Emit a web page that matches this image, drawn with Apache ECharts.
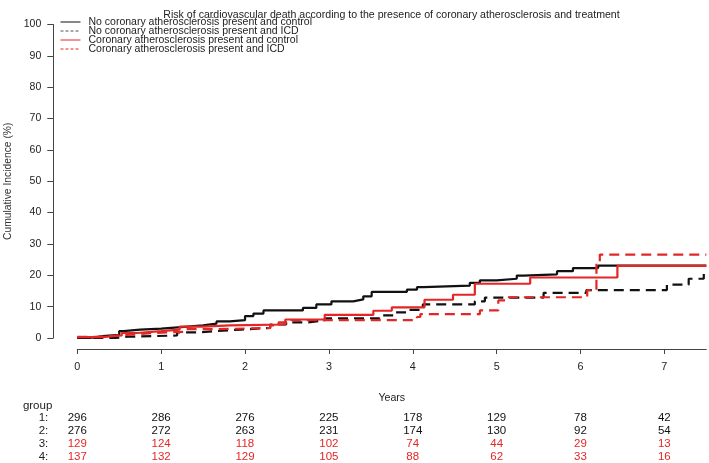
<!DOCTYPE html>
<html>
<head>
<meta charset="utf-8">
<script src="https://cdn.jsdelivr.net/npm/echarts@6/dist/echarts.min.js"></script>
<style>html,body{margin:0;padding:0;background:#fff}#c{width:709px;height:463px}</style>
</head>
<body>
<div id="c"></div>
<script>
const FONT = "'Liberation Sans',Arial,sans-serif";
const titleText = 'Risk of cardiovascular death according to the presence of coronary atherosclerosis and treatment';
const seriesNames = [
  'No coronary atherosclerosis present and control',
  'No coronary atherosclerosis present and ICD',
  'Coronary atherosclerosis present and control',
  'Coronary atherosclerosis present and ICD'
];
const xTicks = [0, 1, 2, 3, 4, 5, 6, 7];
const yTicks = [0, 10, 20, 30, 40, 50, 60, 70, 80, 90, 100];
const groupLabels = ['1:', '2:', '3:', '4:'];
const riskG1 = [296, 286, 276, 225, 178, 129, 78, 42];
const riskG2 = [276, 272, 263, 231, 174, 130, 92, 54];
const riskG3 = [129, 124, 118, 102, 74, 44, 29, 13];
const riskG4 = [137, 132, 129, 105, 88, 62, 33, 16];

// group 1: no coronary atherosclerosis, control (black solid)
const g1Time = [0, 0.15, 0.3, 0.5, 0.55, 0.75, 1.0, 1.2, 1.5, 1.66, 1.82, 2.0, 2.1, 2.22, 2.69, 2.85, 3.03, 3.29, 3.41, 3.51, 3.93, 4.05, 4.13, 4.68, 4.80, 5.0, 5.24, 5.32, 5.72, 5.91, 6.21, 7.5];
const g1Inc  = [0, 0.6, 1.0, 2.2, 2.7, 3.0, 3.4, 4.0, 4.6, 5.3, 5.7, 7.0, 7.8, 8.8, 9.6, 10.7, 11.7, 12.3, 13.3, 14.7, 15.4, 16.2, 16.7, 17.6, 18.4, 18.9, 19.9, 20.3, 21.3, 22.3, 23.1, 23.1];
// group 2: no coronary atherosclerosis, ICD (black dashed)
const g2Time = [0, 0.45, 0.6, 1.19, 1.45, 1.66, 1.95, 2.3, 2.49, 2.75, 2.95, 3.6, 3.78, 3.93, 4.12, 4.74, 4.86, 5.56, 6.07, 7.03, 7.29, 7.47, 7.5];
const g2Inc  = [0, 0.4, 0.8, 1.8, 2.2, 2.7, 3.2, 4.3, 5.0, 5.6, 6.3, 7.2, 8.2, 9.0, 10.7, 11.7, 12.9, 14.4, 15.3, 17.0, 18.9, 21.3, 21.3];
// group 3: coronary atherosclerosis, control (red solid)
const g3Time = [0, 0.3, 0.53, 0.71, 1.0, 1.22, 1.5, 1.82, 2.48, 2.95, 3.53, 3.75, 4.14, 4.48, 4.74, 5.40, 6.44, 7.5];
const g3Inc  = [0.3, 0.8, 1.6, 2.2, 2.7, 3.6, 4.0, 4.3, 5.9, 7.4, 8.7, 9.8, 12.2, 13.8, 17.3, 19.3, 23.0, 23.0];
// group 4: coronary atherosclerosis, ICD (red dashed)
const g4Time = [0, 0.25, 0.6, 0.9, 1.3, 1.6, 2.3, 2.4, 2.55, 4.05, 4.09, 4.80, 5.02, 5.12, 6.08, 6.19, 6.23, 7.5];
const g4Inc  = [0.4, 1.0, 1.6, 2.0, 2.8, 3.2, 4.0, 5.0, 5.7, 6.7, 7.6, 8.8, 12.0, 13.0, 15.3, 24.0, 26.6, 26.6];

const BLACK = '#111111';
const RED = '#e42626';
const AXIS = '#444444';

const pairs = (t, v) => t.map((x, i) => [x, v[i]]);

const chart = echarts.init(document.getElementById('c'), null, { renderer: 'canvas' });

function riskAxis(idx, values, color, label) {
  return {
    type: 'value', gridIndex: 0, position: 'bottom', min: 0, max: 7.5,
    offset: 79.5 + idx * 13.1,
    name: label, nameLocation: 'start', nameGap: 29,
    nameTextStyle: { color: '#222', fontFamily: FONT, fontSize: 11.5, verticalAlign: 'middle' },
    axisLine: { show: false, onZero: false }, axisTick: { show: false }, splitLine: { show: false },
    axisLabel: {
      customValues: xTicks, margin: 0, color: color, fontFamily: FONT, fontSize: 11.5, verticalAlign: 'middle',
      formatter: (v) => { const i = xTicks.indexOf(v); return i >= 0 ? String(values[i]) : ''; }
    }
  };
}

const lineSeries = (name, t, v, color, dashed) => ({
  name, type: 'line', step: 'end', symbol: 'none', clip: false,
  data: pairs(t, v),
  lineStyle: { color, width: 2.2, type: dashed ? [10, 6] : 'solid' },
  itemStyle: { color },
  emphasis: { disabled: true }, animation: false
});

const legendTops = [16, 25, 34, 43];
const legendColors = [BLACK, '#555', RED, RED];
const legendDashed = [false, true, false, true];

const option = {
  animation: false,
  backgroundColor: '#fff',
  title: {
    text: titleText, left: 386.5, top: 5, textAlign: 'center',
    textStyle: { fontFamily: FONT, fontSize: 10.6, fontWeight: 'normal', color: '#222' }
  },
  legend: seriesNames.map((n, i) => ({
    data: [{ name: n,
      itemStyle: { color: 'rgba(0,0,0,0)', borderWidth: 0, opacity: 0 },
      lineStyle: { color: legendColors[i], width: 1, type: legendDashed[i] ? [3, 2] : 'solid' } }],
    left: 60, top: legendTops[i], orient: 'vertical', itemWidth: 20, itemHeight: 12,
    padding: 0, selectedMode: false,
    textStyle: { fontFamily: FONT, fontSize: 10.5, color: '#222', padding: [0, 0, 0, 3], lineHeight: 12 }
  })),
  grid: { left: 77.3, right: 2.7, top: 24.5, bottom: 125, containLabel: false, outerBoundsMode: 'none' },
  xAxis: [
    {
      type: 'value', min: 0, max: 7.5, offset: 11, position: 'bottom',
      name: 'Years', nameLocation: 'middle', nameGap: 44,
      nameTextStyle: { fontFamily: FONT, fontSize: 10.6, color: '#222' },
      axisLine: { show: true, onZero: false, lineStyle: { color: AXIS, width: 1 } },
      axisTick: { show: true, customValues: xTicks, length: 5, lineStyle: { color: AXIS } },
      axisLabel: { customValues: xTicks, margin: 12.5, fontFamily: FONT, fontSize: 10.8, color: '#222' },
      splitLine: { show: false }
    },
    riskAxis(0, riskG1, BLACK, groupLabels[0]),
    riskAxis(1, riskG2, BLACK, groupLabels[1]),
    riskAxis(2, riskG3, RED, groupLabels[2]),
    riskAxis(3, riskG4, RED, groupLabels[3]),
    {
      type: 'value', gridIndex: 0, position: 'bottom', min: 0, max: 7.5, offset: 68,
      name: 'group', nameLocation: 'start', nameGap: 25,
      nameTextStyle: { color: '#222', fontFamily: FONT, fontSize: 11.5, verticalAlign: 'middle' },
      axisLine: { show: false, onZero: false }, axisTick: { show: false }, axisLabel: { show: false }, splitLine: { show: false }
    }
  ],
  yAxis: {
    type: 'value', min: 0, max: 100, interval: 10, offset: 24,
    name: 'Cumulative Incidence (%)', nameLocation: 'middle', nameGap: 38, nameRotate: 90,
    nameTextStyle: { fontFamily: FONT, fontSize: 10.3, color: '#333' },
    axisLine: { show: true, onZero: false, lineStyle: { color: AXIS, width: 1 } },
    axisTick: { show: true, length: 6, lineStyle: { color: AXIS } },
    axisLabel: { margin: 12, fontFamily: FONT, fontSize: 10.5, color: '#222',
      formatter: (v) => yTicks.indexOf(v) >= 0 ? String(v) : '' },
    splitLine: { show: false }
  },
  series: [
    lineSeries(seriesNames[0], g1Time, g1Inc, BLACK, false),
    lineSeries(seriesNames[1], g2Time, g2Inc, BLACK, true),
    lineSeries(seriesNames[2], g3Time, g3Inc, RED, false),
    lineSeries(seriesNames[3], g4Time, g4Inc, RED, true)
  ]
};
chart.setOption(option);
</script>
</body>
</html>
